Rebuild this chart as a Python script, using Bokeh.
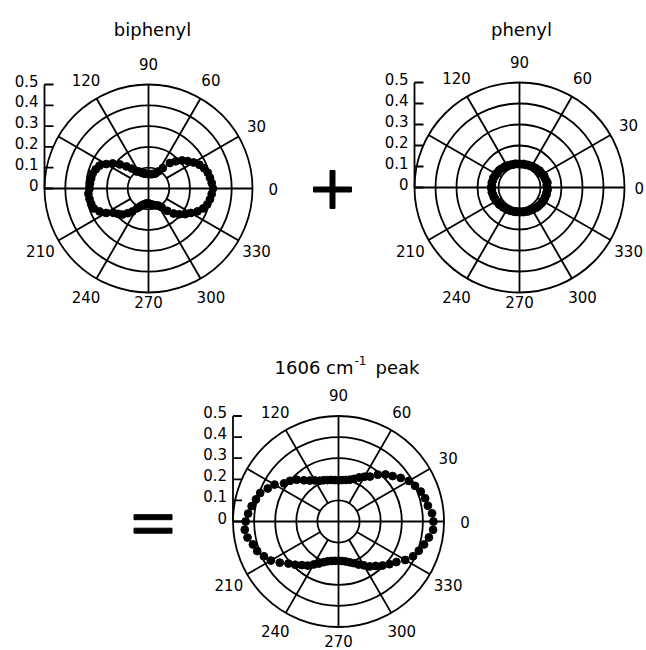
import numpy as np
from bokeh.plotting import figure
from bokeh.layouts import column, row
from bokeh.models import Range1d
from bokeh.embed import file_html
from bokeh.resources import INLINE
from bokeh.core.properties import value

# ---------------- data ----------------
angles_deg = list(range(0, 360, 5))

biphenyl_r = [0.310, 0.305, 0.300, 0.295, 0.285, 0.270, 0.250, 0.230, 0.210, 0.185,
              0.160, 0.120, 0.095, 0.080, 0.075, 0.072, 0.070, 0.070, 0.070, 0.070,
              0.072, 0.075, 0.078, 0.085, 0.095, 0.100, 0.125, 0.150, 0.180, 0.210,
              0.235, 0.260, 0.270, 0.278, 0.280, 0.282, 0.283, 0.290, 0.288, 0.285,
              0.280, 0.260, 0.235, 0.205, 0.190, 0.177, 0.155, 0.135, 0.110, 0.095,
              0.085, 0.078, 0.074, 0.072, 0.072, 0.074, 0.078, 0.082, 0.085, 0.090,
              0.095, 0.110, 0.140, 0.170, 0.193, 0.215, 0.235, 0.260, 0.280, 0.293,
              0.300, 0.305]

phenyl_r = [0.133, 0.130, 0.135, 0.131, 0.128, 0.130, 0.126, 0.124, 0.125, 0.121,
            0.120, 0.117, 0.118, 0.114, 0.115, 0.112, 0.114, 0.111, 0.113, 0.112,
            0.115, 0.113, 0.116, 0.117, 0.119, 0.122, 0.121, 0.125, 0.127, 0.126,
            0.130, 0.129, 0.133, 0.131, 0.134, 0.132, 0.135, 0.132, 0.134, 0.130,
            0.131, 0.128, 0.129, 0.125, 0.126, 0.122, 0.123, 0.120, 0.121, 0.118,
            0.119, 0.117, 0.118, 0.116, 0.118, 0.117, 0.119, 0.118, 0.121, 0.120,
            0.123, 0.122, 0.125, 0.126, 0.127, 0.129, 0.128, 0.131, 0.130, 0.133,
            0.131, 0.134]

peak1606_r = [0.450, 0.445, 0.430, 0.425, 0.415, 0.400, 0.385, 0.360, 0.335, 0.315,
              0.290, 0.260, 0.245, 0.230, 0.215, 0.205, 0.200, 0.197, 0.195, 0.197,
              0.200, 0.203, 0.208, 0.213, 0.225, 0.237, 0.255, 0.280, 0.300, 0.315,
              0.350, 0.370, 0.395, 0.405, 0.418, 0.430, 0.440, 0.446, 0.438, 0.420,
              0.410, 0.390, 0.370, 0.340, 0.310, 0.290, 0.270, 0.255, 0.235, 0.220,
              0.205, 0.195, 0.190, 0.187, 0.186, 0.188, 0.192, 0.200, 0.210, 0.225,
              0.240, 0.260, 0.275, 0.295, 0.315, 0.335, 0.365, 0.390, 0.405, 0.420,
              0.435, 0.450]

ring_r = [0.1, 0.2, 0.3, 0.4, 0.5]
spoke_deg = [30, 60, 120, 150, 210, 240, 300, 330]
label_deg = [0, 30, 60, 90, 120, 210, 240, 270, 300, 330]
label_txt = ["0", "30", "60", "90", "120", "210", "240", "270", "300", "330"]
scale_ticks = [0.0, 0.1, 0.2, 0.3, 0.4, 0.5]
scale_labels = ["0", "0.1", "0.2", "0.3", "0.4", "0.5"]

FONT = "DejaVu Sans"
LABEL_SIZE = "15px"


def polar_fig(W, H, cx, cy, s, r_values, label_r_override):
    p = figure(width=W, height=H,
               x_range=Range1d(-cx / s, (W - cx) / s),
               y_range=Range1d(-(H - cy) / s, cy / s),
               output_backend="svg", toolbar_location=None,
               x_axis_location=None, y_axis_location=None,
               min_border=0, outline_line_color=None)
    p.grid.visible = False
    lw = 1.8
    # rings
    p.circle(x=[0] * len(ring_r), y=[0] * len(ring_r), radius=ring_r,
             fill_color=None, line_color="black", line_width=lw)
    # main axes through centre
    p.segment(x0=[-0.5, 0], y0=[0, -0.5], x1=[0.5, 0], y1=[0, 0.5],
              line_color="black", line_width=lw)
    # spokes
    th = np.radians(spoke_deg)
    p.segment(x0=0.1 * np.cos(th), y0=0.1 * np.sin(th),
              x1=0.5 * np.cos(th), y1=0.5 * np.sin(th),
              line_color="black", line_width=lw)
    # radial scale bar
    p.segment(x0=[-0.5], y0=[0], x1=[-0.5], y1=[0.5], line_color="black", line_width=lw)
    tk = np.array(scale_ticks)
    p.segment(x0=[-0.5] * len(tk), y0=tk, x1=[-0.5 + 9.0 / s] * len(tk), y1=tk,
              line_color="black", line_width=lw)
    p.text(x=[-0.5] * len(tk), y=tk, text=scale_labels, x_offset=-6, y_offset=-4,
           text_align="right", text_baseline="middle",
           text_font=value(FONT), text_font_size=LABEL_SIZE, text_color="black")
    # angle labels
    lr = np.array([label_r_override.get(a, 0.6) for a in label_deg])
    la = np.radians(label_deg)
    p.text(x=lr * np.cos(la), y=lr * np.sin(la), text=label_txt,
           text_align="center", text_baseline="middle",
           text_font=value(FONT), text_font_size=LABEL_SIZE, text_color="black")
    # data points
    a = np.radians(angles_deg)
    r = np.array(r_values)
    p.scatter(x=r * np.cos(a), y=r * np.sin(a), size=7.8,
              fill_color="black", line_color="black")
    return p


def px(cx, cy, s, lx, ly):
    return (lx - cx) / s, (cy - ly) / s


# --- top left: biphenyl ---
c1 = (148, 188, 208)
f1 = polar_fig(360, 325, *c1, biphenyl_r, {270: 0.545})
tx, ty = px(*c1, 152, 29)
f1.text(x=[tx], y=[ty], text=["biphenyl"], text_align="center", text_baseline="alphabetic",
        text_font=value(FONT), text_font_size="18px", text_color="black")
pxc, pyc = px(*c1, 332, 189)
f1.rect(x=[pxc, pxc], y=[pyc, pyc], width=[38, 5], height=[5, 38],
        width_units="screen", height_units="screen", color="black")

# --- top right: phenyl ---
c2 = (159, 187, 210)
f2 = polar_fig(286, 325, *c2, phenyl_r, {270: 0.545, 0: 0.57})
tx, ty = px(*c2, 161, 29)
f2.text(x=[tx], y=[ty], text=["phenyl"], text_align="center", text_baseline="alphabetic",
        text_font=value(FONT), text_font_size="18px", text_color="black")

# --- bottom: 1606 cm-1 peak ---
c3 = (338, 196, 211)
f3 = polar_fig(646, 325, *c3, peak1606_r, {270: 0.565})
x1, yb = px(*c3, 353, 42)
f3.text(x=[x1], y=[yb], text=["1606 cm"], text_align="right", text_baseline="alphabetic",
        text_font=value(FONT), text_font_size="18px", text_color="black")
x2, ys = px(*c3, 354, 35)
f3.text(x=[x2], y=[ys], text=["-1"], text_align="left", text_baseline="alphabetic",
        text_font=value(FONT), text_font_size="12px", text_color="black")
x3, _ = px(*c3, 375, 42)
f3.text(x=[x3], y=[yb], text=["peak"], text_align="left", text_baseline="alphabetic",
        text_font=value(FONT), text_font_size="18px", text_color="black")
ex, ey1 = px(*c3, 152.5, 191.7)
_, ey2 = px(*c3, 152.5, 205.2)
f3.rect(x=[ex, ex], y=[ey1, ey2], width=[38, 38], height=[5, 5],
        width_units="screen", height_units="screen", color="black")

layout = column(row(f1, f2, spacing=0), f3, spacing=0)

with open("out.html", "w") as fh:
    fh.write(file_html(layout, INLINE))
